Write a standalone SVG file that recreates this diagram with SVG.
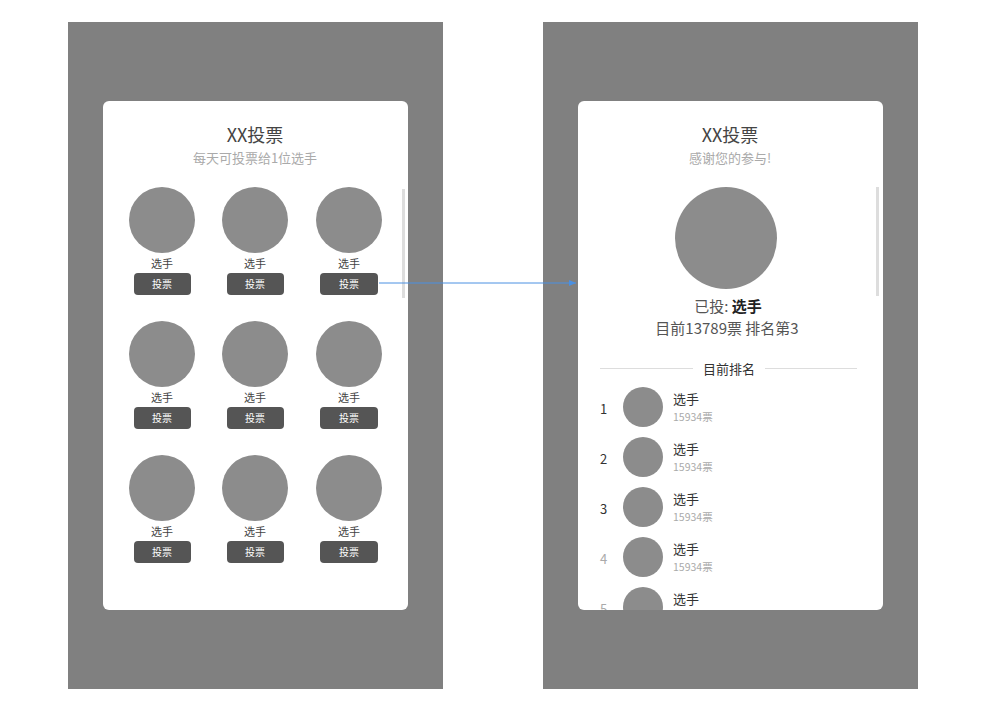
<svg xmlns="http://www.w3.org/2000/svg" width="983" height="706" viewBox="0 0 983 706">
<style>
text{font-family:"Noto Sans CJK SC","Liberation Sans",sans-serif}
.bg{fill:#808080}.card{fill:#fff}.av{fill:#8c8c8c}
.title{font-size:18px;fill:#444;text-anchor:middle}
.sub{font-size:13px;fill:#aaa;text-anchor:middle}
.nm{font-size:11px;fill:#444;text-anchor:middle}
.btn{fill:#555}.bt{font-size:10px;fill:#fff;text-anchor:middle}
.sb{fill:#ddd}
.rk{font-size:13px;fill:#333}.pn{font-size:13px;fill:#333}.vt{font-size:10.5px;fill:#aaa}
</style>
<defs>
<marker id="ah" markerWidth="8" markerHeight="8" refX="7" refY="4" orient="auto" markerUnits="userSpaceOnUse"><path d="M0,1 L7,4 L0,7 z" fill="#4a90e2"/></marker>
<clipPath id="rc"><rect x="578" y="101" width="305" height="509" rx="6"/></clipPath>
</defs>
<rect width="983" height="706" fill="#fff"/>
<g id="screen-vote">
<rect class="bg" x="68" y="22" width="375" height="667"/>
<rect class="card" x="103" y="101" width="305" height="509" rx="6"/>
<text class="title" x="255" y="142">XX投票</text>
<text class="sub" x="255" y="163">每天可投票给1位选手</text>
<rect class="sb" x="402" y="189" width="3" height="109"/>
<g id="cands">
<circle class="av" cx="162" cy="220" r="33"/><circle class="av" cx="255" cy="220" r="33"/><circle class="av" cx="349" cy="220" r="33"/>
<text class="nm" x="162" y="268">选手</text><text class="nm" x="255" y="268">选手</text><text class="nm" x="349" y="268">选手</text>
<rect class="btn" x="134" y="273" width="57" height="22" rx="4"/><rect class="btn" x="227" y="273" width="57" height="22" rx="4"/><rect class="btn" x="320" y="273" width="58" height="22" rx="4"/>
<text class="bt" x="162" y="288">投票</text><text class="bt" x="255" y="288">投票</text><text class="bt" x="349" y="288">投票</text>
<circle class="av" cx="162" cy="354" r="33"/><circle class="av" cx="255" cy="354" r="33"/><circle class="av" cx="349" cy="354" r="33"/>
<text class="nm" x="162" y="402">选手</text><text class="nm" x="255" y="402">选手</text><text class="nm" x="349" y="402">选手</text>
<rect class="btn" x="134" y="407" width="57" height="22" rx="4"/><rect class="btn" x="227" y="407" width="57" height="22" rx="4"/><rect class="btn" x="320" y="407" width="58" height="22" rx="4"/>
<text class="bt" x="162" y="422">投票</text><text class="bt" x="255" y="422">投票</text><text class="bt" x="349" y="422">投票</text>
<circle class="av" cx="162" cy="488" r="33"/><circle class="av" cx="255" cy="488" r="33"/><circle class="av" cx="349" cy="488" r="33"/>
<text class="nm" x="162" y="536">选手</text><text class="nm" x="255" y="536">选手</text><text class="nm" x="349" y="536">选手</text>
<rect class="btn" x="134" y="541" width="57" height="22" rx="4"/><rect class="btn" x="227" y="541" width="57" height="22" rx="4"/><rect class="btn" x="320" y="541" width="58" height="22" rx="4"/>
<text class="bt" x="162" y="556">投票</text><text class="bt" x="255" y="556">投票</text><text class="bt" x="349" y="556">投票</text>
</g>
</g>
<g id="screen-result">
<rect class="bg" x="543" y="22" width="375" height="667"/>
<rect class="card" x="578" y="101" width="305" height="509" rx="6"/>
<text class="title" x="730" y="142">XX投票</text>
<text class="sub" x="730" y="163">感谢您的参与!</text>
<rect class="sb" x="876" y="187" width="3" height="109"/>
<circle class="av" cx="726" cy="238" r="51"/>
<text x="728" y="312" font-size="15" fill="#555" text-anchor="middle">已投: <tspan fill="#222" font-weight="600">选手</tspan></text>
<text x="727" y="334" font-size="15" fill="#555" text-anchor="middle">目前13789票 排名第3</text>
<line x1="600" y1="368.5" x2="693" y2="368.5" stroke="#ddd"/>
<line x1="765" y1="368.5" x2="857" y2="368.5" stroke="#ddd"/>
<text x="729" y="374" font-size="13" fill="#333" text-anchor="middle">目前排名</text>
<g clip-path="url(#rc)">
<text class="rk" x="600" y="414">1</text><circle class="av" cx="643" cy="407" r="20"/><text class="pn" x="673" y="404">选手</text><text class="vt" x="673" y="421">15934票</text>
<text class="rk" x="600" y="464">2</text><circle class="av" cx="643" cy="457" r="20"/><text class="pn" x="673" y="454">选手</text><text class="vt" x="673" y="471">15934票</text>
<text class="rk" x="600" y="514">3</text><circle class="av" cx="643" cy="507" r="20"/><text class="pn" x="673" y="504">选手</text><text class="vt" x="673" y="521">15934票</text>
<text class="rk" x="600" y="564" style="fill:#aaa">4</text><circle class="av" cx="643" cy="557" r="20"/><text class="pn" x="673" y="554">选手</text><text class="vt" x="673" y="571">15934票</text>
<text class="rk" x="600" y="614" style="fill:#aaa">5</text><circle class="av" cx="643" cy="607" r="20"/><text class="pn" x="673" y="604">选手</text><text class="vt" x="673" y="621">15934票</text>
</g>
</g>
<g id="connectors">
<line x1="379" y1="283" x2="576" y2="283" stroke="#4a90e2" stroke-width="1" marker-end="url(#ah)"/>
</g>
</svg>
